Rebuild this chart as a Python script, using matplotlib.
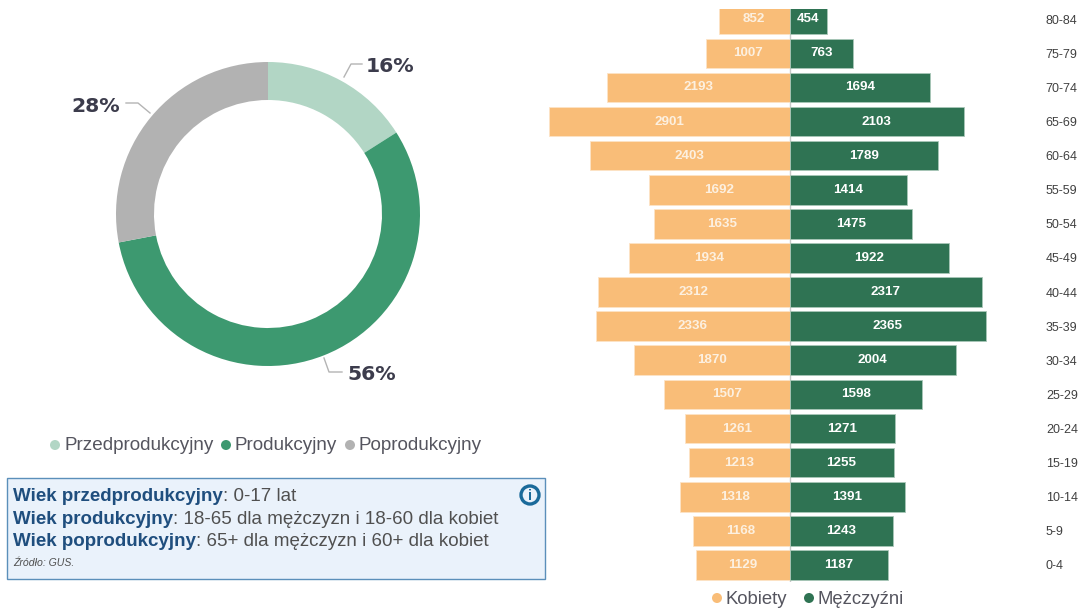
import matplotlib
matplotlib.use('Agg')
import matplotlib.pyplot as plt
from matplotlib.patches import Circle, Rectangle
import numpy as np

# donut data
group_names = ['Przedprodukcyjny', 'Produkcyjny', 'Poprodukcyjny']
group_shares = [16, 56, 28]
group_colors = ['#b2d6c5', '#3d9970', '#b2b2b2']

# pyramid data, from the top of the chart to the bottom
age_groups = ['80-84', '75-79', '70-74', '65-69', '60-64', '55-59', '50-54', '45-49', '40-44',
              '35-39', '30-34', '25-29', '20-24', '15-19', '10-14', '5-9', '0-4']
women = [852, 1007, 2193, 2901, 2403, 1692, 1635, 1934, 2312, 2336, 1870, 1507, 1261, 1213, 1318, 1168, 1129]
men = [454, 763, 1694, 2103, 1789, 1414, 1475, 1922, 2317, 2365, 2004, 1598, 1271, 1255, 1391, 1243, 1187]

plt.rcParams['font.family'] = ['Liberation Sans', 'DejaVu Sans']

W, H = 1088, 612
fig = plt.figure(figsize=(W / 100, H / 100), dpi=100)


# axes position from pixel box, y counted from the top of the image
def px_axes(x0, y0, x1, y1):
    return fig.add_axes([x0 / W, 1 - y1 / H, (x1 - x0) / W, (y1 - y0) / H])


# donut
ax_pie = px_axes(116, 62, 420, 366)
ax_pie.pie(group_shares, colors=group_colors, startangle=90, counterclock=False, radius=1,
           wedgeprops={'width': 0.25, 'linewidth': 0})
ax_pie.set_xlim(-1, 1)
ax_pie.set_ylim(-1, 1)

# pyramid
scale = 0.0830
center = 789.5
ax_bar = px_axes(540, 9, 1040, 582)
y = np.arange(len(age_groups))[::-1]
ax_bar.axvline(0, color='#c8c8c8', lw=1, zorder=1)
ax_bar.barh(y, -np.array(women), height=0.87, color='#f9bd78', edgecolor='#fde3c6', lw=0.6, zorder=2)
ax_bar.barh(y, men, height=0.87, color='#2f7353', edgecolor='#a9c7b8', lw=0.6, zorder=2)
ax_bar.set_xlim((540 - center) / scale, (1040 - center) / scale)
ax_bar.set_ylim(-0.5, 16.3)
for i in range(len(age_groups)):
    ax_bar.text(-women[i] / 2, y[i], str(women[i]), ha='center', va='center', color='#fdf3e6',
                fontsize=9.6, fontweight='bold', alpha=0.95)
    ax_bar.text(men[i] / 2, y[i], str(men[i]), ha='center', va='center', color='white',
                fontsize=9.6, fontweight='bold')
ax_bar.set_xticks([])
ax_bar.yaxis.tick_right()
ax_bar.set_yticks(y)
ax_bar.set_yticklabels(age_groups, fontsize=9, color='#404040')
ax_bar.tick_params(axis='y', length=0, pad=4.2)
for side in ax_bar.spines:
    ax_bar.spines[side].set_visible(False)
ax_bar.patch.set_alpha(0)

# overlay in image pixels for labels, legends and the note box
ov = fig.add_axes([0, 0, 1, 1])
ov.set_xlim(0, W)
ov.set_ylim(H, 0)
ov.axis('off')
ov.patch.set_alpha(0)

# donut leader lines and percent labels
label_color = '#3c3c4c'
ov.plot([344, 351, 362], [77, 64, 64], color='#b4b4b4', lw=1)
ov.plot([126, 138, 150], [103, 103, 113], color='#b4b4b4', lw=1)
ov.plot([324, 329, 342], [358, 372, 372], color='#b4b4b4', lw=1)
for share, lx, ly in zip(group_shares, [366, 347, 71], [66, 374, 106]):
    ov.text(lx, ly, '%d%%' % share, fontsize=14.7, fontweight='bold', family='DejaVu Sans',
            color=label_color, va='center')

# legends
legend_color = '#55555f'
for name, color, dot_x, text_x in zip(group_names, group_colors, [55, 226, 350], [64, 235, 358]):
    ov.add_patch(Circle((dot_x, 445), 5, color=color, lw=0))
    ov.text(text_x, 445, name, fontsize=13.55, color=legend_color, va='center')
for name, color, dot_x, text_x in zip(['Kobiety', 'Mężczyźni'], ['#f9bd78', '#2f7353'], [717, 809], [725.5, 817.5]):
    ov.add_patch(Circle((dot_x, 598), 5, color=color, lw=0))
    ov.text(text_x, 599, name, fontsize=13.3, color=legend_color, va='center')

# note box
ov.add_patch(Rectangle((7, 478), 538, 101, facecolor='#eaf2fb', edgecolor='#5b8fba', lw=1))
note_lines = [('Wiek przedprodukcyjny', ': 0-17 lat', 501),
              ('Wiek produkcyjny', ': 18-65 dla mężczyzn i 18-60 dla kobiet', 524),
              ('Wiek poprodukcyjny', ': 65+ dla mężczyzn i 60+ dla kobiet', 546)]
for bold, rest, base in note_lines:
    t = ov.text(13, base, bold, fontsize=13.5, fontweight='bold', color='#1f4e7e', va='baseline')
    ov.annotate(rest, xy=(1, 0), xycoords=t, va='bottom', fontsize=13.5, color='#505050')
ov.text(13, 566, 'Źródło: GUS.', fontsize=7.6, style='italic', color='#505050', va='baseline')

# info icon
ov.add_patch(Circle((530, 495), 9, facecolor='#eaf2fb', edgecolor='#1a6a9a', lw=2.4))
ov.text(530, 495.5, 'i', fontsize=10.5, fontweight='bold', color='#1a6a9a', ha='center', va='center')

fig.savefig('out.png', dpi=100)
